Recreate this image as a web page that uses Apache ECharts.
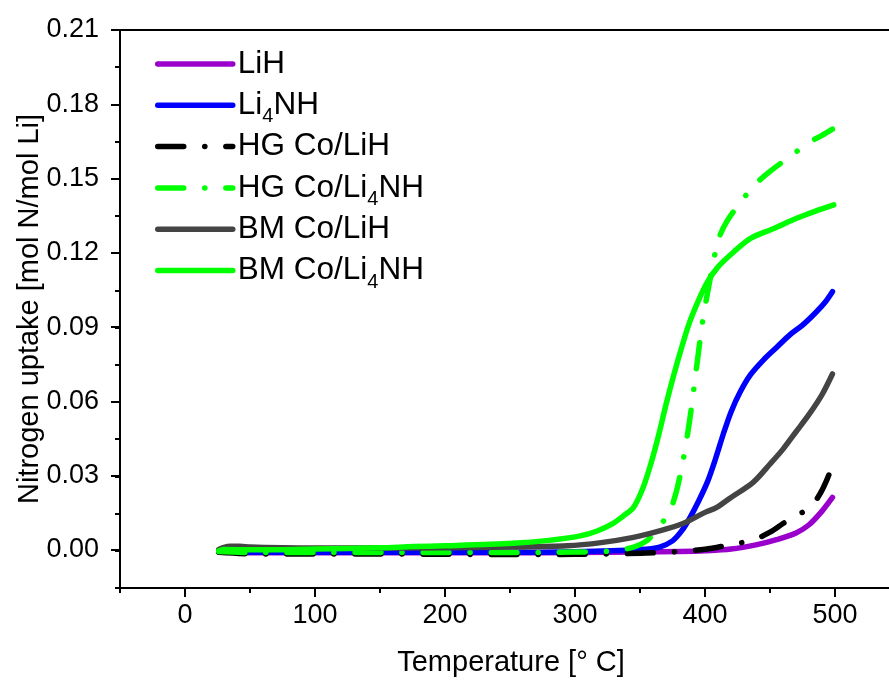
<!DOCTYPE html>
<html><head><meta charset="utf-8">
<script src="https://cdn.jsdelivr.net/npm/echarts@6/dist/echarts.min.js"></script>
<style>html,body{margin:0;padding:0;background:#fff}#c{width:889px;height:688px}</style>
</head><body><div id="c"></div>
<script>
// ---- data (temperature in °C, uptake in mol N / mol Li) ----
const seriesNames = ['LiH', 'Li4NH', 'HG Co/LiH', 'HG Co/Li4NH', 'BM Co/LiH', 'BM Co/Li4NH'];

const liH_T = [26, 50, 100, 150, 200, 250, 300, 350, 380, 400, 420, 440, 455, 470, 480, 490, 498];
const liH_V = [-0.0005, -0.0008, -0.0008, -0.0008, -0.0008, -0.0008, -0.0007, -0.0005, -0.0003, 0.0000, 0.0007, 0.0025, 0.0045, 0.0072, 0.0105, 0.0160, 0.0215];

const li4nh_T = [26, 50, 100, 150, 200, 250, 300, 350, 365, 375, 382, 388, 395, 402, 408, 414, 420, 427, 435, 445, 455, 465, 475, 485, 492, 498];
const li4nh_V = [-0.0002, -0.0006, -0.0006, -0.0006, -0.0006, -0.0006, -0.0004, 0.0005, 0.0015, 0.0040, 0.0080, 0.0130, 0.0200, 0.0280, 0.0370, 0.0470, 0.0560, 0.0640, 0.0710, 0.0770, 0.0820, 0.0870, 0.0910, 0.0960, 0.1000, 0.1045];

const hgLiH_T = [26, 50, 100, 150, 200, 250, 300, 350, 380, 400, 420, 437, 450, 460, 470, 481, 489, 494, 497, 499];
const hgLiH_V = [-0.0006, -0.0012, -0.0013, -0.0013, -0.0014, -0.0015, -0.0014, -0.0010, -0.0003, 0.0006, 0.0025, 0.0044, 0.0075, 0.0110, 0.0142, 0.0175, 0.0235, 0.0290, 0.0330, 0.0360];

const hgLi4nh_T = [26, 50, 100, 150, 200, 250, 300, 330, 345, 355, 362, 368, 373, 378, 383, 388, 393, 398, 403, 410, 417, 428, 438, 450, 468, 479, 490, 498];
const hgLi4nh_V = [-0.0003, -0.0007, -0.0007, -0.0007, -0.0007, -0.0007, -0.0005, 0.0000, 0.0015, 0.0040, 0.0080, 0.0120, 0.0160, 0.0240, 0.0360, 0.0520, 0.0720, 0.0920, 0.1070, 0.1250, 0.1330, 0.1410, 0.1475, 0.1530, 0.1600, 0.1644, 0.1675, 0.1700];

const bmLiH_T = [26, 30, 35, 42, 50, 75, 100, 150, 200, 250, 294, 320, 345, 365, 383, 400, 409, 420, 437, 450, 460, 470, 480, 490, 498];
const bmLiH_V = [0.0005, 0.0014, 0.0018, 0.0018, 0.0015, 0.0012, 0.0011, 0.0011, 0.0012, 0.0015, 0.0020, 0.0033, 0.0054, 0.0080, 0.0110, 0.0155, 0.0175, 0.0215, 0.0276, 0.0350, 0.0410, 0.0480, 0.0550, 0.0630, 0.0713];

const bmLi4nh_T = [26, 30, 50, 73, 100, 150, 176, 200, 252, 280, 304, 317, 329, 337, 345, 352, 358, 364, 370, 376, 382, 388, 395, 402, 410, 422, 435, 453, 470, 485, 499];
const bmLi4nh_V = [0.0000, 0.0005, 0.0004, 0.0004, 0.0007, 0.0012, 0.0017, 0.0020, 0.0030, 0.0042, 0.0060, 0.0080, 0.0110, 0.0140, 0.0175, 0.0250, 0.0345, 0.0460, 0.0590, 0.0710, 0.0820, 0.0920, 0.1010, 0.1085, 0.1145, 0.1205, 0.1260, 0.1300, 0.1340, 0.1370, 0.1395];

const xMajorTicks = [0, 100, 200, 300, 400, 500];
const xMinorTicks = [-50, 0, 50, 100, 150, 200, 250, 300, 350, 400, 450, 500];
const yMajorTicks = ['0.00', '0.03', '0.06', '0.09', '0.12', '0.15', '0.18', '0.21'];

// ---- chart ----
const FONT = '"Liberation Sans", Arial, sans-serif';
const colors = ['#9900CC', '#0000FF', '#000000', '#00FF00', '#444444', '#00FF00'];
const dashDot = [26, 21, 0.1, 21];
const types = ['solid', 'solid', dashDot, dashDot, 'solid', 'solid'];
const Ts = [liH_T, li4nh_T, hgLiH_T, hgLi4nh_T, bmLiH_T, bmLi4nh_T];
const Vs = [liH_V, li4nh_V, hgLiH_V, hgLi4nh_V, bmLiH_V, bmLi4nh_V];

const series = seriesNames.map((name, i) => ({
  name: name,
  type: 'line',
  xAxisIndex: 0, yAxisIndex: 0,
  data: Ts[i].map((t, k) => [t, Vs[i][k]]),
  showSymbol: false, symbol: 'none',
  smooth: 0.3,
  lineStyle: { color: colors[i], width: 5.5, type: types[i], cap: 'round', join: 'round' },
  itemStyle: { color: colors[i] },
  z: 2 + i,
  animation: false
}));
series.push({ type: 'line', xAxisIndex: 2, yAxisIndex: 1, data: [], silent: true });

const axisLineStyle = { color: '#000', width: 2 };
const chart = echarts.init(document.getElementById('c'));
chart.setOption({
  animation: false,
  backgroundColor: '#fff',
  grid: [
    { left: 120, right: 0, top: 30, bottom: 100 },
    { left: 185, right: 54, top: 30, bottom: 138 }
  ],
  xAxis: [
    { type: 'value', gridIndex: 0, min: -50, max: 541.5, interval: 50, position: 'bottom',
      axisLine: { lineStyle: axisLineStyle, onZero: false },
      axisTick: { show: true, inside: false, length: 5, lineStyle: axisLineStyle, customValues: xMinorTicks },
      axisLabel: { show: false }, splitLine: { show: false },
      name: 'Temperature [° C]', nameLocation: 'middle', nameGap: 60,
      nameTextStyle: { fontSize: 29, fontFamily: FONT, color: '#000', padding: [0, 0, 0, 13] } },
    { type: 'value', gridIndex: 0, min: -50, max: 541.5, position: 'top',
      axisLine: { lineStyle: axisLineStyle, onZero: false },
      axisTick: { show: false }, axisLabel: { show: false }, splitLine: { show: false } },
    { type: 'value', gridIndex: 1, min: xMajorTicks[0], max: xMajorTicks[xMajorTicks.length - 1], interval: 100,
      position: 'bottom', offset: 38,
      axisLine: { show: false, onZero: false },
      axisTick: { show: true, length: 9, lineStyle: axisLineStyle },
      axisLabel: { show: true, fontSize: 27, fontFamily: FONT, color: '#000', margin: 14 },
      splitLine: { show: false } }
  ],
  yAxis: [
    { type: 'value', gridIndex: 0, min: -0.015, max: 0.21, interval: 0.015, position: 'left',
      axisLine: { lineStyle: axisLineStyle, onZero: false },
      axisTick: { show: true, length: 5, lineStyle: axisLineStyle },
      axisLabel: { show: false }, splitLine: { show: false },
      name: 'Nitrogen uptake [mol N/mol Li]', nameLocation: 'middle', nameGap: 76,
      nameTextStyle: { fontSize: 29, fontFamily: FONT, color: '#000' } },
    { type: 'value', gridIndex: 1, min: 0, max: 0.21, interval: 0.03, position: 'left', offset: 65,
      axisLine: { show: false, onZero: false },
      axisTick: { show: true, length: 9, lineStyle: axisLineStyle },
      axisLabel: { show: true, fontSize: 27, fontFamily: FONT, color: '#000', margin: 21,
        formatter: v => yMajorTicks[Math.round(v / 0.03)] },
      splitLine: { show: false } }
  ],
  legend: {
    data: seriesNames,
    orient: 'vertical', left: 150, top: 43,
    itemWidth: 75, itemHeight: 20, itemGap: 3.8,
    itemStyle: { opacity: 0 },
    lineStyle: { width: 5.5, cap: 'round' },
    textStyle: { fontSize: 31.5, fontFamily: FONT, color: '#000', lineHeight: 32,
      rich: { sub: { fontSize: 20, fontFamily: FONT, color: '#000', lineHeight: 20, padding: [23, 0, 0, 0] } } },
    formatter: n => n.replace('Li4NH', 'Li{sub|4}NH'),
    selectedMode: false
  },
  series: series
});
</script></body></html>
